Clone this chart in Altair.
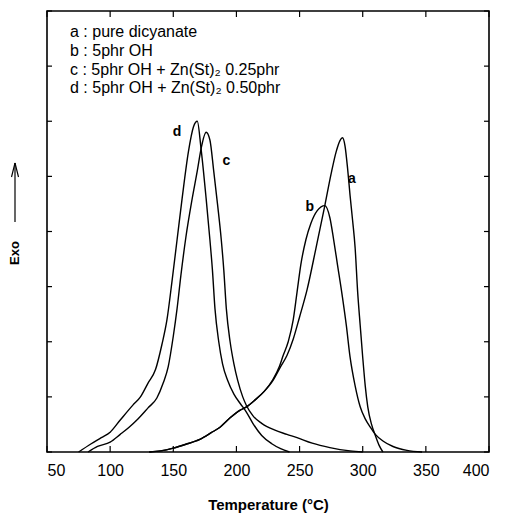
import altair as alt
import pandas as pd

# ---- data (temperature in °C, exotherm in arbitrary units 0-8) ----
temp_a = [131, 140, 150, 160, 171, 180, 187, 195, 203, 208, 215, 222, 229, 235, 240, 245, 250, 256, 263,
          270, 275, 279, 282, 284, 286, 288, 290, 292, 294, 296, 298, 300, 302, 304, 307, 310, 313, 316]
exo_a = [0, 0.02, 0.07, 0.14, 0.23, 0.35, 0.45, 0.62, 0.76, 0.82, 0.95, 1.1, 1.3, 1.55, 1.75, 2.05, 2.45, 2.95, 3.7,
         4.47, 5.05, 5.45, 5.65, 5.7, 5.55, 5.15, 4.65, 4.2, 3.7, 2.9, 2.3, 1.72, 1.2, 0.82, 0.5, 0.3, 0.12, 0]

temp_b = [131, 140, 150, 160, 171, 180, 187, 195, 203, 208, 215, 222, 229, 234, 237, 241, 245, 248, 251, 255,
          259, 264, 270, 274, 277, 280, 284, 287, 290, 294, 298, 302, 306, 310, 316, 324, 335, 347]
exo_b = [0, 0.02, 0.07, 0.14, 0.23, 0.35, 0.45, 0.62, 0.76, 0.82, 0.95, 1.1, 1.32, 1.55, 1.75, 2.0, 2.4, 2.9, 3.4, 3.85,
         4.15, 4.38, 4.47, 4.25, 3.85, 3.4, 2.8, 2.3, 1.72, 1.2, 0.82, 0.6, 0.45, 0.32, 0.2, 0.1, 0.03, 0]

temp_c = [82.5, 90, 100, 108, 115, 122, 130, 137, 142, 146, 150, 153, 156, 160, 165, 169, 172, 176,
          179, 182, 185, 188, 190, 192, 195, 198, 201, 205, 208, 213, 220, 230, 240, 248, 260, 274, 290, 300]
exo_c = [0, 0.1, 0.18, 0.32, 0.45, 0.6, 0.8, 0.98, 1.25, 1.55, 2.1, 2.6, 3.2, 3.9, 4.6, 5.1, 5.5, 5.8,
         5.66, 5.1, 4.5, 3.85, 3.3, 2.6, 2.0, 1.6, 1.3, 1.0, 0.84, 0.66, 0.52, 0.4, 0.32, 0.26, 0.16, 0.08, 0.02, 0]

temp_d = [75, 85, 93, 100, 108, 118, 124, 130, 136, 141, 145, 149, 153, 157, 162, 166, 169,
          172, 176, 179, 181, 183, 186, 189, 193, 198, 203, 208, 213, 220, 228, 235, 242]
exo_d = [0, 0.15, 0.26, 0.36, 0.58, 0.85, 1.0, 1.25, 1.5, 1.95, 2.4, 3.1, 3.85, 4.6, 5.45, 5.9, 6.0,
         5.5, 4.6, 3.85, 3.3, 2.6, 2.0, 1.6, 1.3, 1.05, 0.88, 0.72, 0.52, 0.3, 0.15, 0.06, 0]

series_names = ["a", "b", "c", "d"]
label_temp = [291.5, 258, 192, 153]
label_exo = [4.95, 4.45, 5.28, 5.8]

legend_lines = [
    "a : pure dicyanate",
    "b : 5phr OH",
    "c : 5phr OH + Zn(St)\u2082 0.25phr",
    "d : 5phr OH + Zn(St)\u2082 0.50phr",
]

x_ticks = [50, 100, 150, 200, 250, 300, 350, 400]
y_ticks = [0, 1, 2, 3, 4, 5, 6, 7, 8]

# ---- build tables ----
rows = []
for name, ts, vs in zip(series_names, [temp_a, temp_b, temp_c, temp_d], [exo_a, exo_b, exo_c, exo_d]):
    for t, v in zip(ts, vs):
        rows.append({"series": name, "T": t, "v": v})
df = pd.DataFrame(rows)
df_lab = pd.DataFrame({"series": series_names, "T": label_temp, "v": label_exo})
df_xt = pd.DataFrame({"T": x_ticks})
df_yt = pd.DataFrame({"v": y_ticks})

W, H = 442, 441
FONT = "Liberation Sans"
xs = alt.Scale(domain=[50, 400], nice=False, zero=False)
ys = alt.Scale(domain=[0, 8], nice=False)

x_axis = alt.Axis(values=x_ticks, ticks=False, domain=False, grid=False,
                  labelFont=FONT, labelFontSize=16, labelColor="black", labelPadding=10,
                  title="Temperature (\u00b0C)", titleFont=FONT, titleFontSize=15,
                  titleFontWeight="bold", titleColor="black", titlePadding=19)


def X():
    return alt.X("T:Q", scale=xs, axis=x_axis, title="Temperature (\u00b0C)")


lines = alt.Chart(df).mark_line(color="black", strokeWidth=1.4, interpolate="monotone").encode(
    x=X(),
    y=alt.Y("v:Q", scale=ys, axis=None),
    detail="series:N",
)

labels = alt.Chart(df_lab).mark_text(font=FONT, fontSize=14, fontWeight="bold", color="black").encode(
    x=X(),
    y=alt.Y("v:Q", scale=ys, axis=None),
    text="series:N",
)

xt_bottom = alt.Chart(df_xt).mark_rule(color="black", strokeWidth=1.2).encode(
    x=X(), y=alt.value(H), y2=alt.value(H - 6))
xt_top = alt.Chart(df_xt).mark_rule(color="black", strokeWidth=1.2).encode(
    x=X(), y=alt.value(0), y2=alt.value(6))
yt_left = alt.Chart(df_yt).mark_rule(color="black", strokeWidth=1.2).encode(
    y=alt.Y("v:Q", scale=ys, axis=None), x=alt.value(0), x2=alt.value(5))
yt_right = alt.Chart(df_yt).mark_rule(color="black", strokeWidth=1.2).encode(
    y=alt.Y("v:Q", scale=ys, axis=None), x=alt.value(W), x2=alt.value(W - 5))

legend_layers = []
for i, line in enumerate(legend_lines):
    legend_layers.append(
        alt.Chart(pd.DataFrame({"t": [line]})).mark_text(
            font=FONT, fontSize=16, align="left", baseline="middle", color="black"
        ).encode(x=alt.value(23), y=alt.value(21 + i * 18.8), text="t:N")
    )

exo_text = alt.Chart(pd.DataFrame({"t": ["Exo"]})).mark_text(
    font=FONT, fontSize=13, fontWeight="bold", angle=270, align="center", baseline="middle", color="black"
).encode(x=alt.value(-32), y=alt.value(242), text="t:N")

arrow_shaft = alt.Chart(pd.DataFrame({"t": [0]})).mark_rule(color="black", strokeWidth=1.2).encode(
    x=alt.value(-32), x2=alt.value(-32), y=alt.value(152), y2=alt.value(211))
arrow_l = alt.Chart(pd.DataFrame({"t": [0]})).mark_rule(color="black", strokeWidth=1.2).encode(
    x=alt.value(-32), x2=alt.value(-35.5), y=alt.value(152), y2=alt.value(166))
arrow_r = alt.Chart(pd.DataFrame({"t": [0]})).mark_rule(color="black", strokeWidth=1.2).encode(
    x=alt.value(-32), x2=alt.value(-28.5), y=alt.value(152), y2=alt.value(166))

chart = alt.layer(
    lines, labels, xt_bottom, xt_top, yt_left, yt_right, exo_text, arrow_shaft, arrow_l, arrow_r,
    *legend_layers
).properties(
    width=W, height=H,
    autosize=alt.AutoSizeParams(type="none"),
    padding={"left": 47, "top": 11, "right": 16, "bottom": 61},
).configure_view(stroke="black", strokeWidth=1.6)

chart.save("out.html", embed_options={"renderer": "svg", "actions": False})
